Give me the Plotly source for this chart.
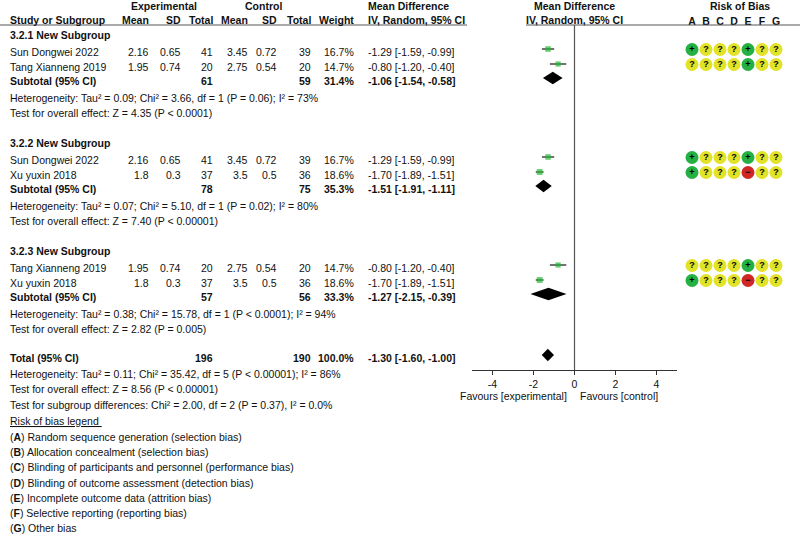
import plotly.graph_objects as go

W, H = 800, 536

# ---- data ----
study = ["Sun Dongwei 2022", "Tang Xianneng 2019", "Sun Dongwei 2022",
         "Xu yuxin 2018", "Tang Xianneng 2019", "Xu yuxin 2018"]
group = [0, 0, 1, 1, 2, 2]
exp_mean = [2.16, 1.95, 2.16, 1.8, 1.95, 1.8]
exp_sd = [0.65, 0.74, 0.65, 0.3, 0.74, 0.3]
exp_n = [41, 20, 41, 37, 20, 37]
ctl_mean = [3.45, 2.75, 3.45, 3.5, 2.75, 3.5]
ctl_sd = [0.72, 0.54, 0.72, 0.5, 0.54, 0.5]
ctl_n = [39, 20, 39, 36, 20, 36]
weight = [16.7, 14.7, 16.7, 18.6, 14.7, 18.6]
md = [-1.29, -0.80, -1.29, -1.70, -0.80, -1.70]
ci_lo = [-1.59, -1.20, -1.59, -1.89, -1.20, -1.89]
ci_hi = [-0.99, -0.40, -0.99, -1.51, -0.40, -1.51]
rob = ["+???+??", "????+??", "+???+??", "+???-??", "????+??", "+???-??"]

sub_names = ["3.2.1 New Subgroup", "3.2.2 New Subgroup", "3.2.3 New Subgroup"]
sub_exp_n = [61, 78, 57]
sub_ctl_n = [59, 75, 56]
sub_weight = [31.4, 35.3, 33.3]
sub_md = [-1.06, -1.51, -1.27]
sub_lo = [-1.54, -1.91, -2.15]
sub_hi = [-0.58, -1.11, -0.39]
sub_het = [
    "Heterogeneity: Tau² = 0.09; Chi² = 3.66, df = 1 (P = 0.06); I² = 73%",
    "Heterogeneity: Tau² = 0.07; Chi² = 5.10, df = 1 (P = 0.02); I² = 80%",
    "Heterogeneity: Tau² = 0.38; Chi² = 15.78, df = 1 (P < 0.0001); I² = 94%",
]
sub_test = [
    "Test for overall effect: Z = 4.35 (P < 0.0001)",
    "Test for overall effect: Z = 7.40 (P < 0.00001)",
    "Test for overall effect: Z = 2.82 (P = 0.005)",
]

total_exp_n, total_ctl_n, total_weight = 196, 190, 100.0
total_md, total_lo, total_hi = -1.30, -1.60, -1.00
total_het = "Heterogeneity: Tau² = 0.11; Chi² = 35.42, df = 5 (P < 0.00001); I² = 86%"
total_test = "Test for overall effect: Z = 8.56 (P < 0.00001)"
subgroup_test = "Test for subgroup differences: Chi² = 2.00, df = 2 (P = 0.37), I² = 0.0%"

tick_vals = [-4, -2, 0, 2, 4]
rob_letters = ["A", "B", "C", "D", "E", "F", "G"]
rob_legend = [
    "Random sequence generation (selection bias)",
    "Allocation concealment (selection bias)",
    "Blinding of participants and personnel (performance bias)",
    "Blinding of outcome assessment (detection bias)",
    "Incomplete outcome data (attrition bias)",
    "Selective reporting (reporting bias)",
    "Other bias",
]

# ---- layout (pixel rows / columns of the page) ----
FONT = "Liberation Sans, Arial, sans-serif"
FS = 10.5
group_top = [35, 143, 251]
total_y = 358
col_right = [150, 182, 214, 249, 278, 312, 355]
md_left = 367
rob_colors = {"+": "#25b043", "?": "#e2e228", "-": "#cf2626"}
rob_text = {"+": "+", "?": "?", "-": "−"}


def px(x):
    return x / W


ann = []


def txt(x, y, s, anchor="left", bold=False, size=FS):
    if bold:
        s = "<b>" + s + "</b>"
    ann.append(dict(x=px(x), y=y, xref="paper", yref="y", text=s, showarrow=False,
                    xanchor=anchor, yanchor="middle", font=dict(size=size, color="#111"),
                    borderpad=0))


def fmt_ci(m, lo, hi):
    return "%.2f [%.2f, %.2f]" % (m, lo, hi)


# headers
txt(164, 6, "Experimental", "center", True)
txt(263, 6, "Control", "center", True)
txt(md_left, 6, "Mean Difference", "left", True)
txt(574, 6, "Mean Difference", "center", True)
txt(740, 6, "Risk of Bias", "center", True)
txt(9, 20, "Study or Subgroup", "left", True)
for x, s in zip(col_right, ["Mean", "SD", "Total", "Mean", "SD", "Total", "Weight"]):
    txt(x, 20, s, "right", True)
txt(md_left, 20, "IV, Random, 95% CI", "left", True)
txt(574, 20, "IV, Random, 95% CI", "center", True)

study_y = []
sub_y = []
for g in range(3):
    top = group_top[g]
    txt(9, top, sub_names[g], "left", True)
    rows = [i for i in range(len(study)) if group[i] == g]
    for k, i in enumerate(rows):
        y = top + 17 + 15 * k
        study_y.append(y)
        txt(9, y, study[i])
        vals = [exp_mean[i], exp_sd[i], exp_n[i], ctl_mean[i], ctl_sd[i], ctl_n[i]]
        for x, v in zip(col_right, vals):
            txt(x, y, str(v), "right")
        txt(col_right[6], y, "%.1f%%" % weight[i], "right")
        txt(md_left, y, fmt_ci(md[i], ci_lo[i], ci_hi[i]))
    ys = top + 46
    sub_y.append(ys)
    txt(9, ys, "Subtotal (95% CI)", "left", True)
    txt(col_right[2], ys, str(sub_exp_n[g]), "right", True)
    txt(col_right[5], ys, str(sub_ctl_n[g]), "right", True)
    txt(col_right[6], ys, "%.1f%%" % sub_weight[g], "right", True)
    txt(md_left, ys, fmt_ci(sub_md[g], sub_lo[g], sub_hi[g]), "left", True)
    txt(9, top + 63, sub_het[g])
    txt(9, top + 78, sub_test[g])

txt(9, total_y, "Total (95% CI)", "left", True)
txt(col_right[2], total_y, str(total_exp_n), "right", True)
txt(col_right[5], total_y, str(total_ctl_n), "right", True)
txt(col_right[6], total_y, "%.1f%%" % total_weight, "right", True)
txt(md_left, total_y, fmt_ci(total_md, total_lo, total_hi), "left", True)
txt(9, total_y + 16, total_het)
txt(9, total_y + 31, total_test)
txt(9, total_y + 47, subgroup_test)
txt(9, 421, "<u>Risk of bias legend </u>")
for k, (L, s) in enumerate(zip(rob_letters, rob_legend)):
    txt(9, 437 + 15.2 * k, "(<b>%s</b>) %s" % (L, s))

txt(568, 396, "Favours [experimental]", "right")
txt(579, 396, "Favours [control]", "left")

MARK_DY = -3

fig = go.Figure()

# study squares with CI whiskers
fig.add_trace(go.Scatter(
    x=md, y=[y + MARK_DY for y in study_y], mode="markers",
    marker=dict(symbol="square", color="#22b832",
                size=[13.5 * (w / 100) ** 0.5 for w in weight], line=dict(width=0)),
    error_x=dict(type="data", symmetric=False,
                 array=[h - m for h, m in zip(ci_hi, md)],
                 arrayminus=[m - l for m, l in zip(md, ci_lo)],
                 width=0, thickness=1.1, color="#000"),
    xaxis="x", yaxis="y", cliponaxis=False, hoverinfo="skip"))

# diamonds
DH = 6.3
for m, lo, hi, y in list(zip(sub_md, sub_lo, sub_hi, sub_y)) + [(total_md, total_lo, total_hi, total_y)]:
    yc = y + MARK_DY
    fig.add_trace(go.Scatter(
        x=[lo, m, hi, m, lo], y=[yc, yc - DH, yc, yc + DH, yc],
        mode="lines", fill="toself", fillcolor="#000", line=dict(width=0, color="#000"),
        xaxis="x", yaxis="y", hoverinfo="skip"))

# risk of bias circles
rx, ry, rc, rt = [], [], [], []
for i, code in enumerate(rob):
    for j, c in enumerate(code):
        rx.append(rob_letters[j])
        ry.append(study_y[i] + MARK_DY + 0.5)
        rc.append(rob_colors[c])
        rt.append("<b>%s</b>" % rob_text[c])
fig.add_trace(go.Scatter(
    x=rx, y=ry, mode="markers+text", text=rt, textposition="middle center",
    textfont=dict(size=9, color="#000"),
    marker=dict(size=13, color=rc, line=dict(width=0)),
    xaxis="x3", yaxis="y", cliponaxis=False, hoverinfo="skip"))

axis_y = 370
shapes = [
    dict(type="line", xref="x", yref="y", x0=0, x1=0, y0=25, y1=axis_y,
         line=dict(color="#555", width=1.2)),
    dict(type="line", xref="paper", yref="y", x0=0, x1=px(467), y0=25, y1=25,
         line=dict(color="#555", width=1)),
    dict(type="line", xref="paper", yref="y", x0=px(526), x1=1, y0=25, y1=25,
         line=dict(color="#555", width=1)),
]

axis_pos = 1 - axis_y / H
fig.update_layout(
    width=W, height=H, margin=dict(l=0, r=0, t=0, b=0),
    paper_bgcolor="white", plot_bgcolor="rgba(0,0,0,0)",
    showlegend=False, font=dict(family=FONT, size=FS, color="#111"),
    annotations=ann, shapes=shapes,
    xaxis=dict(domain=[px(472), px(677)], range=[-5, 5], anchor="free", position=axis_pos,
               tickvals=tick_vals, ticktext=[str(v) for v in tick_vals],
               ticks="outside", ticklen=4, tickcolor="#333",
               showline=True, linecolor="#333", linewidth=1, showgrid=False, zeroline=False,
               tickfont=dict(size=FS, color="#111")),
    xaxis2=dict(overlaying="x", range=[-5, 5], anchor="free", position=axis_pos,
                tickvals=tick_vals, ticks="inside", ticklen=4, tickcolor="#333",
                showticklabels=False, showline=False, showgrid=False, zeroline=False),
    xaxis3=dict(domain=[px(685), px(783)], range=[-0.5, 6.5], type="category",
                categoryorder="array", categoryarray=rob_letters,
                anchor="free", position=1 - 27 / H, side="top", ticks="",
                tickvals=rob_letters, ticktext=["<b>%s</b>" % L for L in rob_letters],
                showline=False, showgrid=False, zeroline=False,
                tickfont=dict(size=FS, color="#111")),
    yaxis=dict(domain=[0, 1], range=[H, 0], visible=False, anchor="free", position=0),
)

# page body has a default 8px margin; drop it so the figure sits at the corner
fig.write_html("out.html", config={"displayModeBar": False},
               post_script="document.body.style.margin = '0';")
